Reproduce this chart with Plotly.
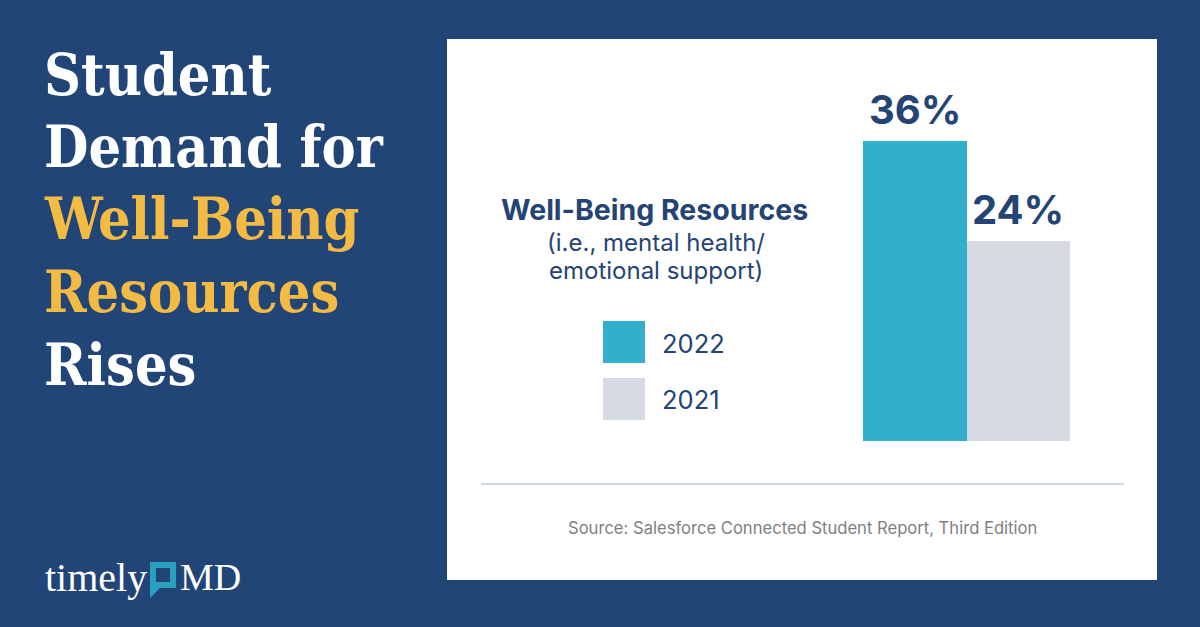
import plotly.graph_objects as go

# ---- data ----
years = ["2022", "2021"]
shares = [36, 24]
bar_colors = ["#30B0CD", "#D4D9E4"]
title_lines = ["Student", "Demand for", "Well-Being", "Resources", "Rises"]
title_colors = ["#FFFFFF", "#FFFFFF", "#F4BB44", "#F4BB44", "#FFFFFF"]
metric_title = "Well-Being Resources"
metric_sub = ["(i.e., mental health/", "emotional support)"]
source_text = "Source: Salesforce Connected Student Report, Third Edition"

W, H = 1200, 627
NAVY_BG = "#224577"
NAVY_TXT = "#234474"


def px(x):
    return x / W


def py(y):
    return 1 - y / H


fig = go.Figure()

# bars
base_px, top_px, ymax = 441, 141, 36
yrange_max = 40
dom_top = base_px - (base_px - top_px) * yrange_max / ymax
fig.add_trace(go.Bar(
    x=years, y=shares, marker=dict(color=bar_colors, line=dict(width=0)),
    width=1.0, showlegend=False, hoverinfo="skip",
))

fig.update_layout(
    width=W, height=H, margin=dict(l=0, r=0, t=0, b=0),
    paper_bgcolor=NAVY_BG, plot_bgcolor="rgba(0,0,0,0)",
    bargap=0,
    xaxis=dict(type="category", domain=[px(863), px(1070)], visible=False, range=[-0.5, 1.5]),
    yaxis=dict(domain=[py(base_px), py(dom_top)], visible=False, range=[0, yrange_max]),
)

shapes = []
# white card
shapes.append(dict(type="rect", xref="paper", yref="paper", x0=px(447), x1=px(1157),
                   y0=py(580), y1=py(39), fillcolor="#FFFFFF", line=dict(width=0), layer="below"))
# divider
shapes.append(dict(type="line", xref="paper", yref="paper", x0=px(481), x1=px(1124),
                   y0=py(484), y1=py(484), line=dict(color="#C8DCEA", width=2)))
# legend squares
for i, (yr, col) in enumerate(zip(years, bar_colors)):
    y0 = 321 + i * 57
    shapes.append(dict(type="rect", xref="paper", yref="paper", x0=px(603), x1=px(645),
                       y0=py(y0 + 42), y1=py(y0), fillcolor=col, line=dict(width=0)))
# logo icon (speech bubble square)
shapes.append(dict(type="rect", xref="paper", yref="paper", x0=px(150), x1=px(176),
                   y0=py(588), y1=py(562), fillcolor="#2A9FBF", line=dict(width=0)))
shapes.append(dict(type="rect", xref="paper", yref="paper", x0=px(156), x1=px(170),
                   y0=py(582), y1=py(568), fillcolor=NAVY_BG, line=dict(width=0)))
shapes.append(dict(type="path", xref="paper", yref="paper",
                   path=f"M {px(150)},{py(587)} L {px(150)},{py(598)} L {px(161)},{py(587)} Z",
                   fillcolor="#2A9FBF", line=dict(width=0)))

annotations = []
# value labels
for i, v in enumerate(shares):
    annotations.append(dict(x=i, y=v, xref="x", yref="y", text=f"<b>{v}%</b>", showarrow=False,
                            yanchor="bottom", yshift=5,
                            font=dict(family="Inter", size=40, color=NAVY_TXT)))
# left title
for i, (line, col) in enumerate(zip(title_lines, title_colors)):
    annotations.append(dict(x=px(42), y=py(74 + i * 72.5), xref="paper", yref="paper",
                            text=f"<b>{line}</b>", showarrow=False,
                            xanchor="left", yanchor="middle",
                            font=dict(family="DejaVu Serif Condensed", size=57, color=col)))
# metric title
annotations.append(dict(x=px(655), y=py(210), xref="paper", yref="paper",
                        text=f"<b>{metric_title}</b>", showarrow=False,
                        xanchor="center", yanchor="middle",
                        font=dict(family="Inter", size=28.5, color=NAVY_TXT)))
for i, s in enumerate(metric_sub):
    annotations.append(dict(x=px(656), y=py(242 + i * 28), xref="paper", yref="paper",
                            text=s, showarrow=False, xanchor="center", yanchor="middle",
                            font=dict(family="Inter", size=24, color=NAVY_TXT)))
# legend labels
for i, yr in enumerate(years):
    annotations.append(dict(x=px(660), y=py(343 + i * 56), xref="paper", yref="paper",
                            text=yr, showarrow=False, xanchor="left", yanchor="middle",
                            font=dict(family="Inter", size=25.5, color=NAVY_TXT)))
# source
annotations.append(dict(x=px(802), y=py(528), xref="paper", yref="paper",
                        text=source_text, showarrow=False, xanchor="center", yanchor="middle",
                        font=dict(family="Inter", size=16.6, color="#7F7F7F")))
# logo text
annotations.append(dict(x=px(43), y=py(577), xref="paper", yref="paper", text="timely",
                        showarrow=False, xanchor="left", yanchor="middle",
                        font=dict(family="Liberation Serif", size=40, color="#FFFFFF")))
annotations.append(dict(x=px(178), y=py(577), xref="paper", yref="paper", text="MD",
                        showarrow=False, xanchor="left", yanchor="middle",
                        font=dict(family="Liberation Serif", size=38, color="#FFFFFF")))

fig.update_layout(shapes=shapes, annotations=annotations)
fig.write_html(
    "out.html",
    config={"displayModeBar": False},
    post_script="document.body.style.margin='0';document.body.style.background='%s';" % NAVY_BG,
)
